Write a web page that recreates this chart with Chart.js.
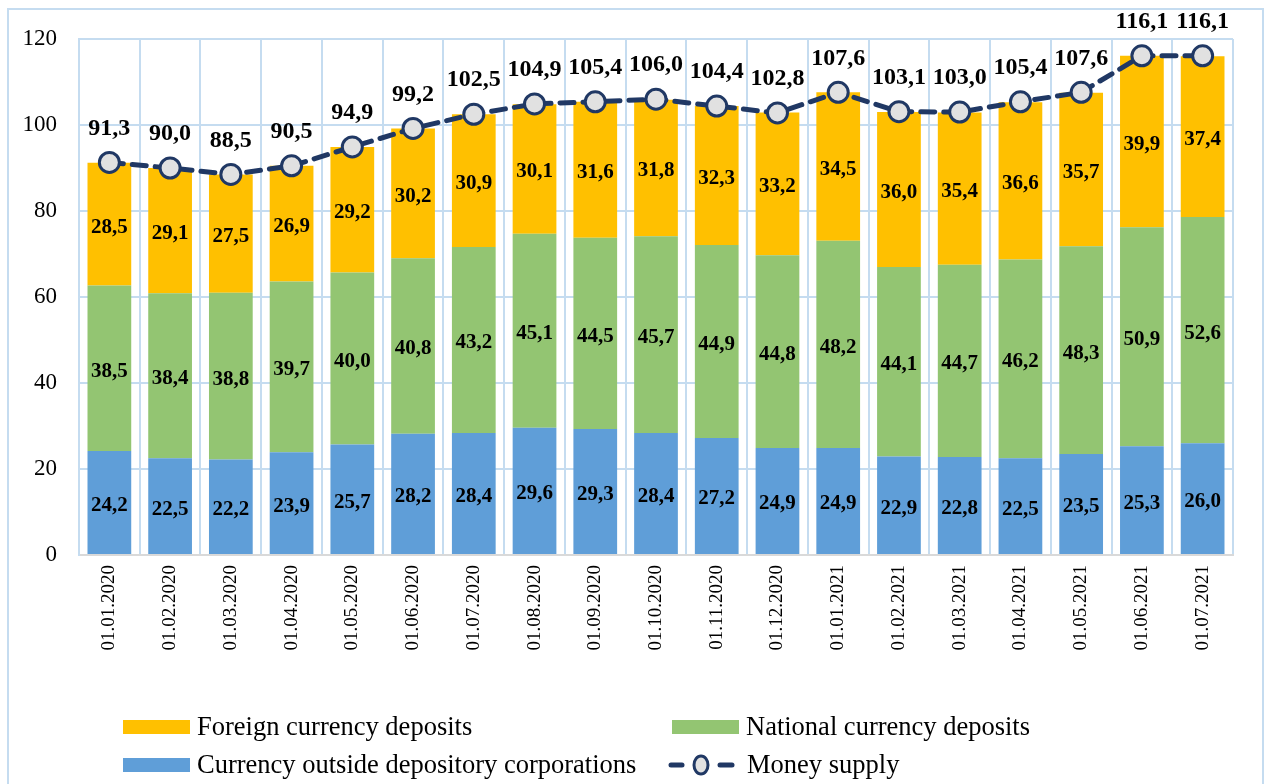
<!DOCTYPE html>
<html>
<head>
<meta charset="utf-8">
<script src="https://cdn.jsdelivr.net/npm/chart.js@4"></script>
<style>
  body { margin: 0; background: #fff; overflow: hidden; }
  #wrap { position: relative; width: 1269px; height: 784px; }
  #frame { position: absolute; left: 7px; top: 8px; width: 1257px; height: 800px;
           border: 2px solid #C5DCF0; border-bottom: none; box-sizing: border-box; }
  canvas { position: absolute; left: 0; top: 0; }
</style>
</head>
<body>
<div id="wrap">
  <div id="frame"></div>
  <canvas id="myChart" width="1269" height="784"></canvas>
</div>
<script>
const dates = ['01.01.2020','01.02.2020','01.03.2020','01.04.2020','01.05.2020','01.06.2020',
  '01.07.2020','01.08.2020','01.09.2020','01.10.2020','01.11.2020','01.12.2020',
  '01.01.2021','01.02.2021','01.03.2021','01.04.2021','01.05.2021','01.06.2021','01.07.2021'];
const currencyOutside = [24.2,22.5,22.2,23.9,25.7,28.2,28.4,29.6,29.3,28.4,27.2,24.9,24.9,22.9,22.8,22.5,23.5,25.3,26.0];
const nationalDeposits = [38.5,38.4,38.8,39.7,40.0,40.8,43.2,45.1,44.5,45.7,44.9,44.8,48.2,44.1,44.7,46.2,48.3,50.9,52.6];
const foreignDeposits = [28.5,29.1,27.5,26.9,29.2,30.2,30.9,30.1,31.6,31.8,32.3,33.2,34.5,36.0,35.4,36.6,35.7,39.9,37.4];
const moneySupply = [91.3,90.0,88.5,90.5,94.9,99.2,102.5,104.9,105.4,106.0,104.4,102.8,107.6,103.1,103.0,105.4,107.6,116.1,116.1];

const serif = '"Liberation Serif", "Times New Roman", serif';
const gridColor = '#C5DCF0';
const navy = '#203864';

function fmt(v) {
    return v.toFixed(1).replace('.', ',');
}

// value labels on bars and above line points
const valueLabels = {
    id: 'valueLabels',
    afterDatasetsDraw(chart) {
        const ctx = chart.ctx;
        ctx.save();
        ctx.fillStyle = '#000';
        ctx.textAlign = 'center';
        ctx.textBaseline = 'middle';
        chart.data.datasets.forEach((ds, i) => {
            const meta = chart.getDatasetMeta(i);
            meta.data.forEach((el, j) => {
                const v = ds.data[j];
                if (ds.type === 'line') {
                    ctx.font = 'bold 24px ' + serif;
                    ctx.fillText(fmt(v), el.x, el.y - 34);
                } else {
                    ctx.font = 'bold 21px ' + serif;
                    ctx.fillText(fmt(v), el.x, (el.y + el.base) / 2 + 3);
                }
            });
        });
        ctx.restore();
    }
};

// legend drawn in two columns under the chart
const bottomLegend = {
    id: 'bottomLegend',
    afterDraw(chart) {
        const ctx = chart.ctx;
        const ds = chart.data.datasets;
        const items = [
            { d: ds[3], x: 123, y: 727 },
            { d: ds[2], x: 672, y: 727 },
            { d: ds[1], x: 123, y: 765 },
            { d: ds[0], x: 668, y: 765 }
        ];
        ctx.save();
        ctx.font = '26.5px ' + serif;
        ctx.textBaseline = 'middle';
        ctx.fillStyle = '#000';
        items.forEach(it => {
            if (it.d.type === 'line') {
                ctx.strokeStyle = it.d.borderColor;
                ctx.lineWidth = 5;
                ctx.lineCap = 'round';
                ctx.beginPath(); ctx.moveTo(671, it.y); ctx.lineTo(682, it.y); ctx.stroke();
                ctx.beginPath(); ctx.moveTo(720, it.y); ctx.lineTo(732, it.y); ctx.stroke();
                ctx.beginPath();
                ctx.ellipse(701, it.y, 7, 9, 0, 0, Math.PI * 2);
                ctx.fillStyle = it.d.pointBackgroundColor;
                ctx.fill();
                ctx.lineWidth = 3;
                ctx.stroke();
                ctx.fillStyle = '#000';
                ctx.fillText(it.d.label, 747, it.y + 1);
            } else {
                ctx.fillStyle = it.d.backgroundColor;
                ctx.fillRect(it.x, it.y - 7, 67, 14);
                ctx.fillStyle = '#000';
                ctx.fillText(it.d.label, it.x + 74, it.y + 1);
            }
        });
        ctx.restore();
    }
};

const ctx = document.getElementById('myChart').getContext('2d');
const myChart = new Chart(ctx, {
    data: {
        labels: dates,
        datasets: [{
            type: 'line',
            label: 'Money supply',
            data: moneySupply,
            borderColor: navy,
            borderWidth: 5,
            borderDash: [14, 9],
            borderCapStyle: 'round',
            pointRadius: 10,
            pointBorderWidth: 3,
            pointBorderColor: navy,
            pointBackgroundColor: '#E1E1E1',
            tension: 0,
            order: 0
        }, {
            type: 'bar',
            label: 'Currency outside depository corporations',
            data: currencyOutside,
            backgroundColor: '#5F9ED8',
            stack: 's',
            categoryPercentage: 0.72,
            barPercentage: 1,
            order: 1
        }, {
            type: 'bar',
            label: 'National currency deposits',
            data: nationalDeposits,
            backgroundColor: '#93C572',
            stack: 's',
            categoryPercentage: 0.72,
            barPercentage: 1,
            order: 1
        }, {
            type: 'bar',
            label: 'Foreign currency deposits',
            data: foreignDeposits,
            backgroundColor: '#FFC000',
            stack: 's',
            categoryPercentage: 0.72,
            barPercentage: 1,
            order: 1
        }]
    },
    options: {
        responsive: false,
        animation: false,
        layout: { padding: { left: 0, top: 39, right: 36, bottom: 129 } },
        plugins: {
            legend: { display: false },
            tooltip: { enabled: false }
        },
        scales: {
            x: {
                stacked: true,
                grid: { color: gridColor, lineWidth: 2, offset: true, drawTicks: false },
                border: { color: '#D9D9D9', width: 2 },
                ticks: {
                    color: '#000',
                    font: { family: serif, size: 19 },
                    maxRotation: 90, minRotation: 90,
                    padding: 10
                },
                afterFit(scale) { scale.height = 100; }
            },
            y: {
                stacked: true,
                min: 0, max: 120,
                grid: { color: gridColor, lineWidth: 2, drawTicks: false },
                border: { color: gridColor, width: 2 },
                ticks: {
                    stepSize: 20,
                    color: '#000',
                    font: { family: serif, size: 23 },
                    padding: 22
                },
                afterFit(scale) { scale.width = 79; }
            }
        }
    },
    plugins: [valueLabels, bottomLegend]
});
</script>
</body>
</html>
